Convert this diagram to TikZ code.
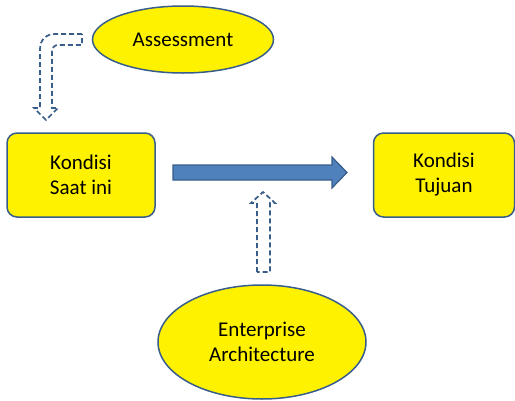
\documentclass[tikz,border=0pt]{standalone}
\usepackage{fontspec}
\setmainfont{Carlito}
\usetikzlibrary{shapes.geometric, positioning}
\definecolor{garisbiru}{HTML}{385D8A}
\definecolor{isibiru}{HTML}{4F81BD}

\begin{document}
\begin{tikzpicture}
	[x=1pt, y=-1pt, font=\fontsize{21}{25}\selectfont,
	 kotak/.style={draw=garisbiru, line width=1.5pt, fill=yellow, rounded corners=10pt,
	   minimum height=84pt, align=center},
	 elips/.style={ellipse, draw=garisbiru, line width=1.5pt, fill=yellow, align=center, inner sep=0pt},
	 panah/.style={draw=garisbiru, line width=1.7pt, dash pattern=on 5pt off 3pt, fill=white}]
   \useasboundingbox (0,0) rectangle (515,400);
   \node[kotak, minimum width=148pt] (saat) at (81,175) {Kondisi\\Saat ini};
   \node[kotak, minimum width=141pt] (tujuan) [right=217pt of saat] {Kondisi\\Tujuan};
   \node[elips, minimum width=181pt, minimum height=67pt] (asesmen) at (183,39.5) {Assessment};
   \node[elips, minimum width=208pt, minimum height=114pt] (ea) at (262,342) {Enterprise\\Architecture};
   % panah besar
   \fill[isibiru, draw=garisbiru, line width=1.2pt]
     (173,165) -- (332,165) -- (332,157) -- (347,172.5) -- (332,188) -- (332,180) -- (173,180) -- cycle;
   % panah dari EA
   \draw[panah] (257,272) -- (257,203) -- (251,203) -- (263,192) -- (275,203) -- (270,203) -- (270,272) -- cycle;
   % panah dari assessment
   \draw[panah] (82,34) -- (55,34) .. controls (46,34) and (40,40) .. (40,49) -- (40,108)
     -- (34,108) -- (46,120) -- (58,108) -- (52,108) -- (52,52)
     .. controls (52,48) and (54,45) .. (58,45) -- (82,45) -- cycle;
\end{tikzpicture}
\end{document}
